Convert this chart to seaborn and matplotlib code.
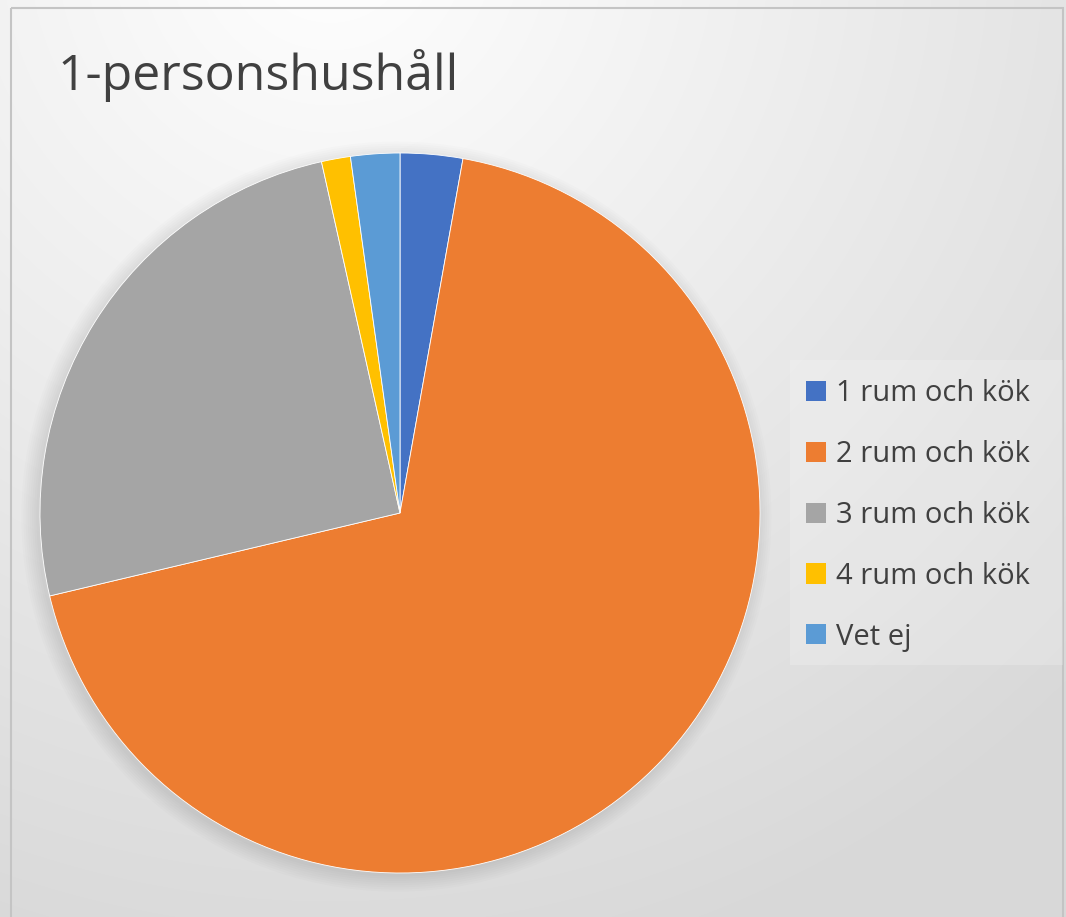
import numpy as np
import matplotlib
matplotlib.use("Agg")
import matplotlib.pyplot as plt
import seaborn as sns
from matplotlib.patches import Rectangle, Patch, Circle

title = "1-personshushåll"
categories = ["1 rum och kök", "2 rum och kök", "3 rum och kök", "4 rum och kök", "Vet ej"]
shares = [2.8, 68.5, 25.2, 1.3, 2.2]
colors = ["#4472c4", "#ed7d31", "#a5a5a5", "#ffc000", "#5b9bd5"]


def main():
    sns.set_style("white")
    plt.rcParams["font.family"] = ["Open Sans", "DejaVu Sans"]

    W, H = 1066, 917
    fig = plt.figure(figsize=(W / 100, H / 100), dpi=100)

    # soft grey gradient background
    bg = fig.add_axes([0, 0, 1, 1])
    yy, xx = np.mgrid[0:H, 0:W]
    d = np.sqrt((xx - 330) ** 2 + ((yy + 60) * 1.0) ** 2)
    t = np.clip(d / 1050, 0, 1)
    shade = 1.0 - 0.15 * t
    bg.imshow(np.dstack([shade] * 3), extent=[0, W, H, 0], aspect="auto")
    bg.set_xlim(0, W)
    bg.set_ylim(H, 0)
    bg.axis("off")
    bg.add_patch(Rectangle((11, 8), 1052, 920, fill=False, edgecolor="#c4c4c4", lw=1.5))
    bg.add_patch(Rectangle((790, 360), 273, 305, facecolor="white", alpha=0.2, edgecolor="none"))

    ax = fig.add_axes([40 / W, 1 - 873 / H, 720 / W, 720 / H])
    # faint shadow under the pie
    for k in range(8):
        ax.add_patch(Circle((-0.01, -0.01), 1.0 + 0.006 * k, facecolor="black",
                            alpha=0.012, edgecolor="none", clip_on=False))
    ax.pie(shares, colors=colors, startangle=90, counterclock=False,
           wedgeprops=dict(edgecolor="white", linewidth=0.6))
    ax.set_xlim(-1, 1)
    ax.set_ylim(-1, 1)
    ax.set_aspect("equal")
    ax.axis("off")

    fig.text(57 / W, 1 - 75 / H, title, fontsize=36, color="#404040", va="center", ha="left")

    handles = [Patch(facecolor=c, edgecolor="none") for c in colors]
    fig.legend(handles, categories, loc="upper left",
               bbox_to_anchor=(783 / W, 1 - 356 / H), frameon=False,
               fontsize=21, labelspacing=1.09, labelcolor="#404040",
               handlelength=0.68, handleheight=0.68, handletextpad=0.33,
               borderpad=0.3)

    fig.savefig("out.png", dpi=100)
    plt.close(fig)


if __name__ == "__main__":
    main()
